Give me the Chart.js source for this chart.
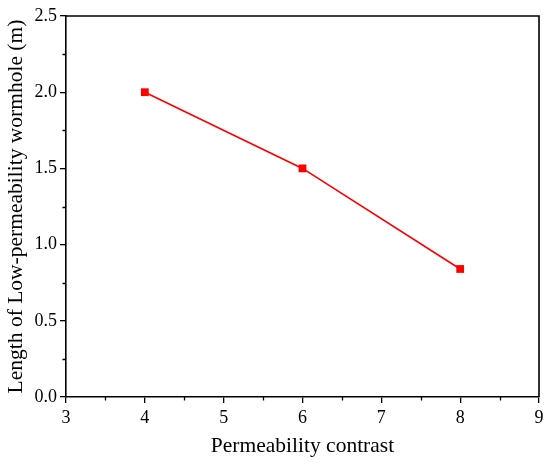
<!DOCTYPE html>
<html>
<head>
<meta charset="utf-8">
<script src="https://cdn.jsdelivr.net/npm/chart.js@4/dist/chart.umd.min.js"></script>
<style>
  body { margin: 0; background: #fff; }
</style>
</head>
<body>
<canvas id="wormChart" width="550" height="465"></canvas>
<script>
const contrast = [4, 6, 8];          // permeability contrast
const wormLength = [2.0, 1.5, 0.84]; // low-permeability wormhole length (m)
const xTicks = [3, 4, 5, 6, 7, 8, 9];
const yTicks = [0.0, 0.5, 1.0, 1.5, 2.0, 2.5];

const serif = "'Liberation Serif', 'Times New Roman', serif";
const ink = '#000';

// small outward minor ticks halfway between the labelled ones, plus top/right frame
const minorTicks = {
    id: 'minorTicks',
    afterDraw(chart) {
        const ctx = chart.ctx;
        const xs = chart.scales.x, ys = chart.scales.y;
        ctx.save();
        ctx.strokeStyle = ink;
        ctx.lineWidth = 1.3;
        ctx.beginPath();
        for (let i = 0; i < xTicks.length - 1; i++) {
            const px = Math.round(xs.getPixelForValue((xTicks[i] + xTicks[i + 1]) / 2)) + 0.5;
            ctx.moveTo(px, ys.bottom);
            ctx.lineTo(px, ys.bottom + 3.5);
        }
        for (let i = 0; i < yTicks.length - 1; i++) {
            const py = Math.round(ys.getPixelForValue((yTicks[i] + yTicks[i + 1]) / 2)) + 0.5;
            ctx.moveTo(xs.left, py);
            ctx.lineTo(xs.left - 3.5, py);
        }
        ctx.stroke();
        ctx.lineWidth = 1.6;
        ctx.beginPath();
        ctx.moveTo(xs.left, ys.top);
        ctx.lineTo(xs.right, ys.top);
        ctx.lineTo(xs.right, ys.bottom);
        ctx.stroke();
        ctx.restore();
    }
};

new Chart(document.getElementById('wormChart'), {
    type: 'line',
    data: {
        datasets: [{
            data: contrast.map((c, i) => ({ x: c, y: wormLength[i] })),
            borderColor: '#ff0000',
            backgroundColor: '#ff0000',
            borderWidth: 1.7,
            pointStyle: 'rect',
            pointRadius: 5.5,
            pointBorderWidth: 0,
            tension: 0
        }]
    },
    options: {
        responsive: false,
        animation: false,
        layout: { padding: { top: 16, right: 11, left: 0, bottom: 0 } },
        plugins: {
            legend: { display: false },
            tooltip: { enabled: false }
        },
        scales: {
            x: {
                type: 'linear',
                min: 3,
                max: 9,
                afterBuildTicks: (s) => { s.ticks = xTicks.map(v => ({ value: v })); },
                afterFit: (s) => { s.height = 68; },
                border: { color: ink, width: 1.6 },
                grid: { drawOnChartArea: false, color: ink, lineWidth: 1.3, tickLength: 6 },
                ticks: {
                    color: ink,
                    padding: 4,
                    maxRotation: 0,
                    font: { family: serif, size: 18 },
                    callback: (v) => String(v)
                },
                title: {
                    display: true,
                    text: 'Permeability contrast',
                    color: ink,
                    padding: { top: 0, bottom: 5.5 },
                    font: { family: serif, size: 21.5 }
                }
            },
            y: {
                min: 0,
                max: 2.5,
                afterBuildTicks: (s) => { s.ticks = yTicks.map(v => ({ value: v })); },
                afterFit: (s) => { s.width = 66; },
                border: { color: ink, width: 1.6 },
                grid: { drawOnChartArea: false, color: ink, lineWidth: 1.3, tickLength: 6 },
                ticks: {
                    color: ink,
                    padding: 3,
                    font: { family: serif, size: 18 },
                    callback: (v) => v.toFixed(1)
                },
                title: {
                    display: true,
                    text: 'Length of Low-permeability wormhole (m)',
                    color: ink,
                    padding: { top: 3.5, bottom: 0 },
                    font: { family: serif, size: 21.5 }
                }
            }
        }
    },
    plugins: [minorTicks]
});
</script>
</body>
</html>
